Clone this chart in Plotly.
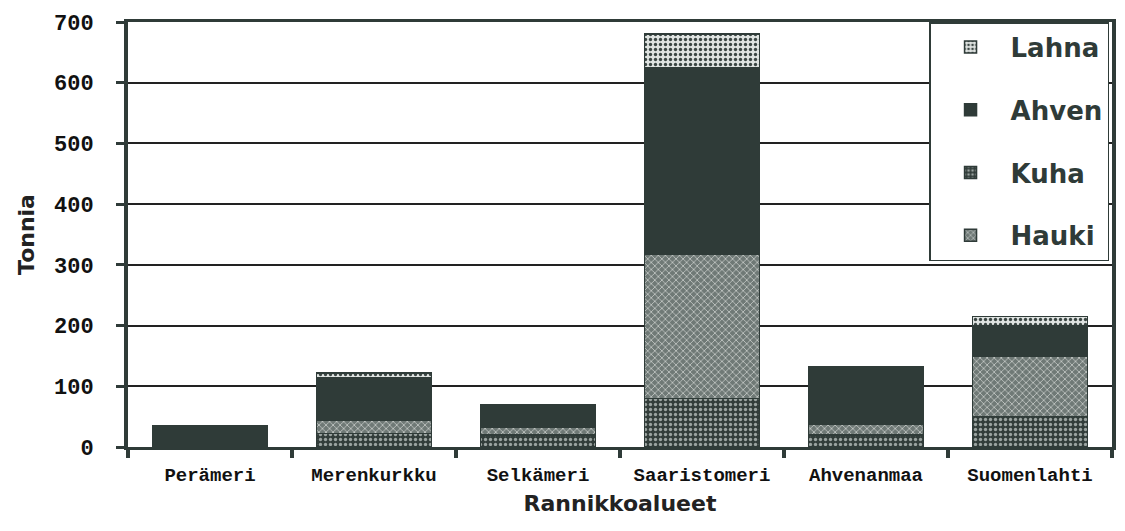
import plotly.graph_objects as go

regions = ["Perämeri", "Merenkurkku", "Selkämeri", "Saaristomeri", "Ahvenanmaa", "Suomenlahti"]
kuha = [0, 22, 20, 80, 20, 50]
hauki = [0, 22, 12, 237, 18, 100]
ahven = [35, 70, 38, 308, 95, 50]
lahna = [0, 8, 0, 55, 0, 15]
y_ticks = [0, 100, 200, 300, 400, 500, 600, 700]

DARK = "#2f3b38"

series = [
    ("Kuha", kuha, dict(shape=".", bgcolor="#323d3a", fgcolor="#9aa3a0", size=5, solidity=0.35), 3),
    ("Hauki", hauki, dict(shape="x", bgcolor="#6f7976", fgcolor="#c3c9c6", size=5, solidity=0.3), 4),
    ("Ahven", ahven, None, 2),
    ("Lahna", lahna, dict(shape=".", bgcolor="#dfe3e1", fgcolor="#3a4542", size=5, solidity=0.35), 1),
]

fig = go.Figure()
for name, vals, pat, rank in series:
    marker = dict(color=DARK if pat is None else pat["bgcolor"], line=dict(color=DARK, width=1.5))
    if pat is not None:
        marker["pattern"] = dict(fillmode="replace", **pat)
    fig.add_trace(go.Bar(x=regions, y=vals, name=name, marker=marker,
                         legendrank=rank, legendgroup=name))

fig.update_layout(
    barmode="stack",
    bargap=0.3,
    width=1117, height=523,
    margin=dict(l=120, r=13, t=14, b=84, autoexpand=False),
    paper_bgcolor="white", plot_bgcolor="white",
    showlegend=True,
    legend=dict(
        x=0.997, y=1.0, xanchor="right", yanchor="top",
        bgcolor="white", bordercolor=DARK, borderwidth=1.5,
        font=dict(family="DejaVu Sans", size=26, color=DARK, weight="bold"),
        tracegroupgap=26, itemwidth=70,
    ),
    xaxis=dict(
        title=dict(text="Rannikkoalueet", font=dict(family="DejaVu Sans", size=22, color="#222", weight="bold"), standoff=10),
        tickfont=dict(family="Liberation Mono", size=19, color="#111", weight="bold"),
        ticklabelstandoff=8,
        showline=True, linecolor=DARK, linewidth=3, mirror=True,
        ticks="outside", tickson="boundaries", ticklen=8, tickwidth=4, tickcolor=DARK,
        showgrid=False, automargin=False,
    ),
    yaxis=dict(
        title=dict(text="Tonnia", font=dict(family="DejaVu Sans", size=22, color="#222", weight="bold"), standoff=14),
        range=[0, 700], tickvals=y_ticks,
        tickfont=dict(family="Liberation Mono", size=22, color="#111", weight="bold"),
        ticklabelstandoff=18,
        showline=True, linecolor=DARK, linewidth=4, mirror=True,
        ticks="outside", ticklen=8, tickwidth=3, tickcolor=DARK,
        showgrid=True, gridcolor="#222", gridwidth=1.5,
        zeroline=False, automargin=False,
    ),
)

fig.write_html("out.html")
